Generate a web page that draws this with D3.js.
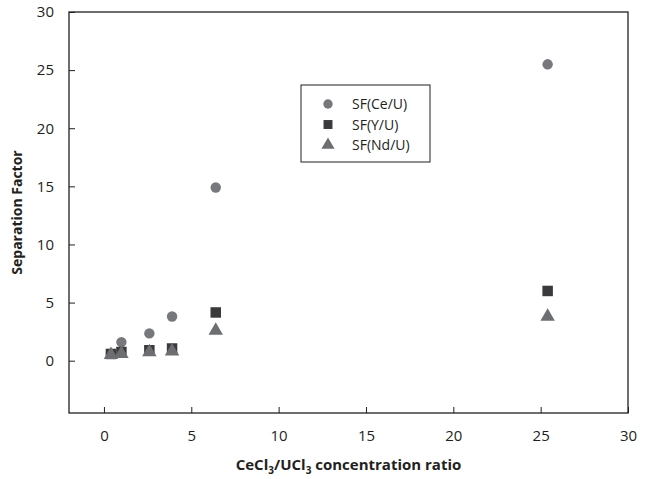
<!DOCTYPE html>
<html><head><meta charset="utf-8">
<script src="https://cdn.jsdelivr.net/npm/d3@7"></script>
<style>body{margin:0;background:#fff}svg{display:block}text{font-family:"Open Sans","Noto Sans",sans-serif;fill:#231f20}</style>
</head><body><svg id="c" width="654" height="479"></svg>
<script>
const ratios = [0.4, 1.0, 2.6, 3.9, 6.4, 25.4];
const sfCe = [0.6, 1.6, 2.35, 3.8, 14.9, 25.5];
const sfY  = [0.58, 0.75, 0.9, 1.05, 4.15, 6.0];
const sfNd = [0.5, 0.6, 0.75, 0.8, 2.6, 3.8];
const seriesNames = ["SF(Ce/U)", "SF(Y/U)", "SF(Nd/U)"];
const xTicks = [0, 5, 10, 15, 20, 25, 30];
const yTicks = [0, 5, 10, 15, 20, 25, 30];

const svg = d3.select("#c");
const L = 69, R = 628, T = 12, B = 413;
const x = d3.scaleLinear().domain([-2, 30]).range([L, R]);
const y = d3.scaleLinear().domain([-4.5, 30]).range([B, T]);

svg.append("rect").attr("x", L).attr("y", T).attr("width", R - L).attr("height", B - T)
  .attr("fill", "none").attr("stroke", "#231f20").attr("stroke-width", 1.3);

const xAxis = svg.append("g").attr("transform", `translate(0,${B})`)
  .call(d3.axisBottom(x).tickValues(xTicks).tickSizeInner(-6).tickSizeOuter(0).tickPadding(17));
xAxis.select(".domain").remove();
xAxis.selectAll("line").attr("stroke", "#231f20");
xAxis.selectAll("text").attr("font-size", 15);

const yAxis = svg.append("g").attr("transform", `translate(${L},0)`)
  .call(d3.axisLeft(y).tickValues(yTicks).tickSizeInner(-6).tickSizeOuter(0).tickPadding(15));
yAxis.select(".domain").remove();
yAxis.selectAll("line").attr("stroke", "#231f20");
yAxis.selectAll("text").attr("font-size", 15);

const sym = {
  circle: d3.symbol().type(d3.symbolCircle).size(85),
  square: d3.symbol().type(d3.symbolSquare).size(110),
  triangle: d3.symbol().type(d3.symbolTriangle).size(90)
};
const series = [
  {name: seriesNames[0], vals: sfCe, s: sym.circle, c: "#77787b"},
  {name: seriesNames[1], vals: sfY, s: sym.square, c: "#3a3a3c"},
  {name: seriesNames[2], vals: sfNd, s: sym.triangle, c: "#6d6e71"}
];
series.forEach(se => {
  svg.append("g").selectAll("path").data(ratios.map((r, i) => [r, se.vals[i]])).join("path")
    .attr("d", se.s).attr("fill", se.c)
    .attr("transform", d => `translate(${x(d[0])},${y(d[1])})`);
});

// legend
const lg = svg.append("g");
lg.append("rect").attr("x", 301).attr("y", 85).attr("width", 129).attr("height", 77)
  .attr("fill", "#fff").attr("stroke", "#231f20").attr("stroke-width", 1);
const legendSizes = [70, 80, 75];
series.forEach((se, i) => {
  const yy = 104 + i * 20.5;
  const ls = d3.symbol().type([d3.symbolCircle, d3.symbolSquare, d3.symbolTriangle][i]).size(legendSizes[i]);
  lg.append("path").attr("d", ls).attr("fill", se.c)
    .attr("transform", `translate(328,${yy})`);
  lg.append("text").attr("x", 352).attr("y", yy + 5).attr("font-size", 14).text(se.name);
});

// axis titles
const xt = svg.append("text").attr("x", (L + R) / 2).attr("y", 470).attr("text-anchor", "middle")
  .attr("font-size", 15).attr("font-weight", "bold");
xt.append("tspan").text("CeCl");
xt.append("tspan").attr("font-size", 10).attr("dy", 4).text("3");
xt.append("tspan").attr("dy", -4).text("/UCl");
xt.append("tspan").attr("font-size", 10).attr("dy", 4).text("3");
xt.append("tspan").attr("dy", -4).text(" concentration ratio");

svg.append("text").attr("transform", `translate(22,${(T + B) / 2}) rotate(-90)`)
  .attr("text-anchor", "middle").attr("font-size", 14).attr("font-weight", "bold").text("Separation Factor");
</script></body></html>
